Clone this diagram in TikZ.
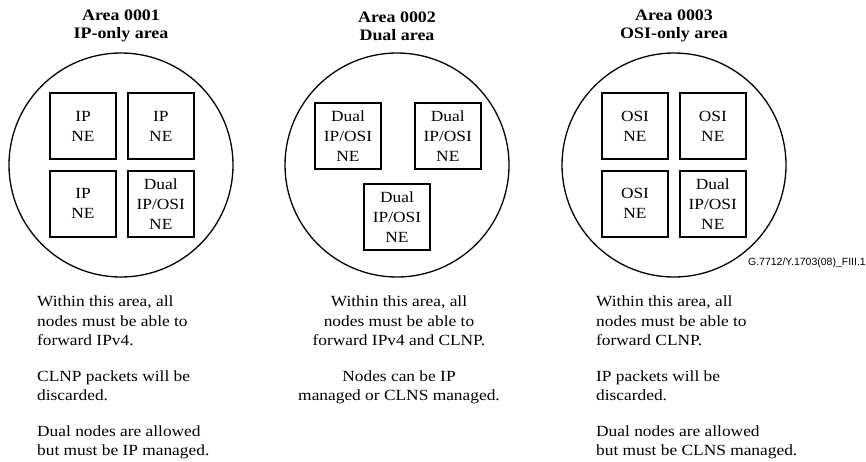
\documentclass[tikz,border=0pt]{standalone}
\usepackage{fontspec}
\setmainfont{Liberation Serif}[FakeStretch=1.12]
\newfontfamily\figidfont{Liberation Sans}
\usetikzlibrary{positioning}

\tikzset{
	areacircle/.style={draw, line width=1.3pt, circle, minimum size=224pt, inner sep=0pt},
	nebox/.style={draw, line width=1.8pt, minimum size=66pt, inner sep=0pt, align=center,
		font=\fontsize{15.5}{20}\selectfont},
	areatitle/.style={align=center, inner sep=0pt, font=\fontsize{16}{18}\selectfont\bfseries},
	areanote/.style={inner sep=0pt, font=\fontsize{15.5}{19.5}\selectfont},
}

\begin{document}
\begin{tikzpicture}[x=1pt,y=-1pt,node distance=10pt]
	
	\useasboundingbox (0,0) rectangle (866,461);
	
	% area circles
	\node[areacircle] (ipcircle) at (121,165) {};
	\node[areacircle] (dualcircle) at (397,165) {};
	\node[areacircle] (osicircle) at (674,165) {};
	
	\node[areatitle] (iptitle) at (121,26) {Area 0001\\IP-only area};
	\node[areatitle] (dualtitle) at (397,26) {Area 0002\\Dual area};
	\node[areatitle] (osititle) at (674,26) {Area 0003\\OSI-only area};
	
	% IP-only area
	\node[nebox] (ipne1) at (83,126) {IP\\NE};
	\node[nebox, right=of ipne1] (ipne2) {IP\\NE};
	\node[nebox, below=of ipne1] (ipne3) {IP\\NE};
	\node[nebox, right=of ipne3] (ipdual) {Dual\\IP/OSI\\NE};
	
	% dual area
	\node[nebox] (dualne1) at (348,136) {Dual\\IP/OSI\\NE};
	\node[nebox, right=32pt of dualne1] (dualne2) {Dual\\IP/OSI\\NE};
	\node[nebox] (dualne3) at (397,217) {Dual\\IP/OSI\\NE};
	
	% OSI-only area
	\node[nebox] (osine1) at (635,126) {OSI\\NE};
	\node[nebox, right=of osine1] (osine2) {OSI\\NE};
	\node[nebox, below=of osine1] (osine3) {OSI\\NE};
	\node[nebox, right=of osine3] (osidual) {Dual\\IP/OSI\\NE};
	
	\node[anchor=east, inner sep=0pt, font=\figidfont\fontsize{10.5}{12}\selectfont]
		(figid) at (866,263) {G.7712/Y.1703(08)\_FIII.1};
	
	% notes
	\node[areanote, anchor=north west, align=left] (ipnote) at (37,296)
		{Within this area, all\\nodes must be able to\\forward IPv4.\\[16pt]
		CLNP packets will be\\discarded.\\[16pt]
		Dual nodes are allowed\\but must be IP managed.};
	
	\node[areanote, anchor=north, align=center] (dualnote) at (399,296)
		{Within this area, all\\nodes must be able to\\forward IPv4 and CLNP.\\[16pt]
		Nodes can be IP\\managed or CLNS managed.};
	
	\node[areanote, anchor=north west, align=left] (osinote) at (596,296)
		{Within this area, all\\nodes must be able to\\forward CLNP.\\[16pt]
		IP packets will be\\discarded.\\[16pt]
		Dual nodes are allowed\\but must be CLNS managed.};
	
\end{tikzpicture}
\end{document}
